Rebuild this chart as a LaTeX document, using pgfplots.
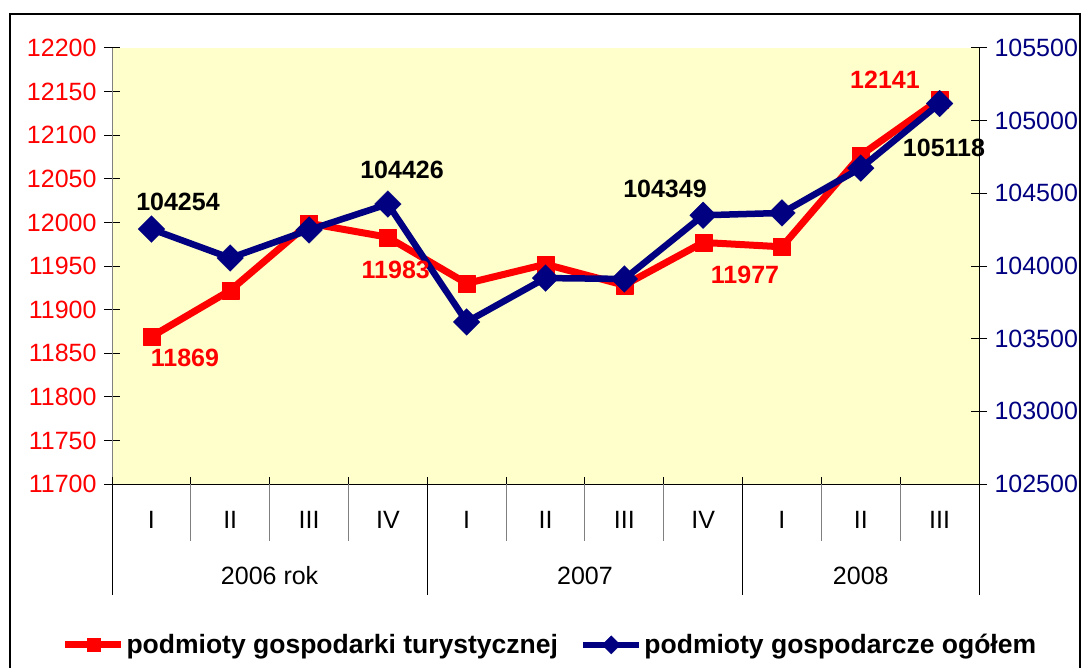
\documentclass[border=0pt]{standalone}
\usepackage{pgfplots}
\pgfplotsset{compat=1.18}
\usepackage{fontspec}
\setmainfont{Liberation Sans}
\definecolor{navy}{RGB}{0,0,128}
\definecolor{bgy}{RGB}{255,255,204}
\definecolor{myred}{RGB}{255,0,0}
\newcommand{\fs}{\fontsize{25}{30}\selectfont}
\begin{document}
\begin{tikzpicture}[x=1pt,y=1pt]
\useasboundingbox (0,0) rectangle (1086,667);
\draw[line width=1.5pt] (10,-20) rectangle (1080,653);
\begin{axis}[
  at={(112pt,183pt)}, anchor=south west,
  scale only axis, width=867pt, height=436pt,
  xmin=-0.5, xmax=10.5, ymin=11700, ymax=12200,
  clip=false,
  axis y line*=left, axis x line*=bottom,
  axis line style={-},
  x axis line style={black, line width=1pt},
  y axis line style={gray, line width=1pt},
  axis background/.style={fill=bgy},
  ytick={11700,11750,...,12200},
  scaled y ticks=false,
  yticklabel style={myred, font=\fs, xshift=-4pt, /pgf/number format/fixed, /pgf/number format/precision=0},
  ytick style={black, line width=1pt},
  major tick length=16pt, tick align=center,
  /pgf/number format/assume math mode=true,
  /pgf/number format/1000 sep={},
  xtick={0,...,10},
  xticklabels={I,II,III,IV,I,II,III,IV,I,II,III},
  xtick style={draw=none},
  xticklabel style={anchor=center, yshift=-28pt, font=\fs},
  extra x ticks={-0.5,0.5,...,10.5},
  extra x tick labels={},
  extra x tick style={xtick style={draw=black, line width=1pt}, major tick length=14pt},
]
\addplot[color=myred, line width=7pt, line join=round, mark=square*, mark size=8.5pt, mark options={solid, line width=0.1pt, fill=myred}]
coordinates {(0,11869) (1,11922) (2,11999) (3,11983) (4,11930) (5,11952) (6,11928) (7,11977) (8,11972) (9,12077) (10,12141)};
\pgfplotsinvokeforeach{0.5,1.5,2.5,4.5,5.5,6.5,8.5,9.5}{
  \draw[gray, line width=1pt] (axis cs:#1,11700) -- ++(0pt,-57pt);
}
\pgfplotsinvokeforeach{-0.5,3.5,7.5,10.5}{
  \draw[black, line width=1pt] (axis cs:#1,11700) -- ++(0pt,-111pt);
}
\node[font=\fs, yshift=-92pt] at (axis cs:1.5,11700) {2006 rok};
\node[font=\fs, yshift=-92pt] at (axis cs:5.5,11700) {2007};
\node[font=\fs, yshift=-92pt] at (axis cs:9,11700) {2008};
\end{axis}
\begin{axis}[
  at={(112pt,183pt)}, anchor=south west,
  scale only axis, width=867pt, height=436pt,
  xmin=-0.5, xmax=10.5, ymin=102500, ymax=105500,
  clip=false,
  axis y line*=right, axis x line=none,
  axis line style={-},
  y axis line style={black, line width=1pt},
  ytick={102500,103000,...,105500},
  scaled y ticks=false,
  yticklabel style={navy, font=\fs, xshift=4pt, /pgf/number format/fixed, /pgf/number format/precision=0},
  ytick style={black, line width=1pt},
  major tick length=16pt, tick align=center,
  /pgf/number format/assume math mode=true,
  /pgf/number format/1000 sep={},
  legend style={at={(0.505,-0.369)}, anchor=center, legend columns=2, draw=none, fill=none,
    font=\bfseries\fontsize{26.5}{30}\selectfont,
    /tikz/every even column/.append style={column sep=20pt}},
  legend image code/.code={\draw[mark repeat=2,mark phase=2,#1, mark size=6.5pt] plot coordinates {(0pt,0pt) (28pt,0pt) (56pt,0pt)};},
]
\addlegendimage{color=myred, line width=7pt, mark=square*, mark options={solid, line width=0.1pt, fill=myred}}
\addlegendentry{podmioty gospodarki turystycznej}
\addplot[color=navy, line width=6.5pt, line join=round, mark=square*, mark size=9.5pt, mark options={solid, rotate=45, line width=0.1pt, fill=navy}]
coordinates {(0,104254) (1,104055) (2,104248) (3,104426) (4,103615) (5,103917) (6,103911) (7,104349) (8,104365) (9,104674) (10,105118)};
\addlegendentry{podmioty gospodarcze ogółem}
\end{axis}
\begin{axis}[
  at={(112pt,183pt)}, anchor=south west,
  scale only axis, width=867pt, height=436pt,
  xmin=-0.5, xmax=10.5, ymin=11700, ymax=12200,
  clip=false, hide axis,
]
\node[myred, font=\bfseries\fs] at (axis cs:0.426,11844.5) {11869};
\node[myred, font=\bfseries\fs] at (axis cs:3.10,11945) {11983};
\node[myred, font=\bfseries\fs] at (axis cs:7.531,11940) {11977};
\node[myred, font=\bfseries\fs] at (axis cs:9.307,12164) {12141};
\node[black, font=\bfseries\fs] at (axis cs:0.337,12023) {104254};
\node[black, font=\bfseries\fs] at (axis cs:3.18,12060) {104426};
\node[black, font=\bfseries\fs] at (axis cs:6.516,12038) {104349};
\node[black, font=\bfseries\fs] at (axis cs:10.056,12085) {105118};
\end{axis}
\end{tikzpicture}
\end{document}
